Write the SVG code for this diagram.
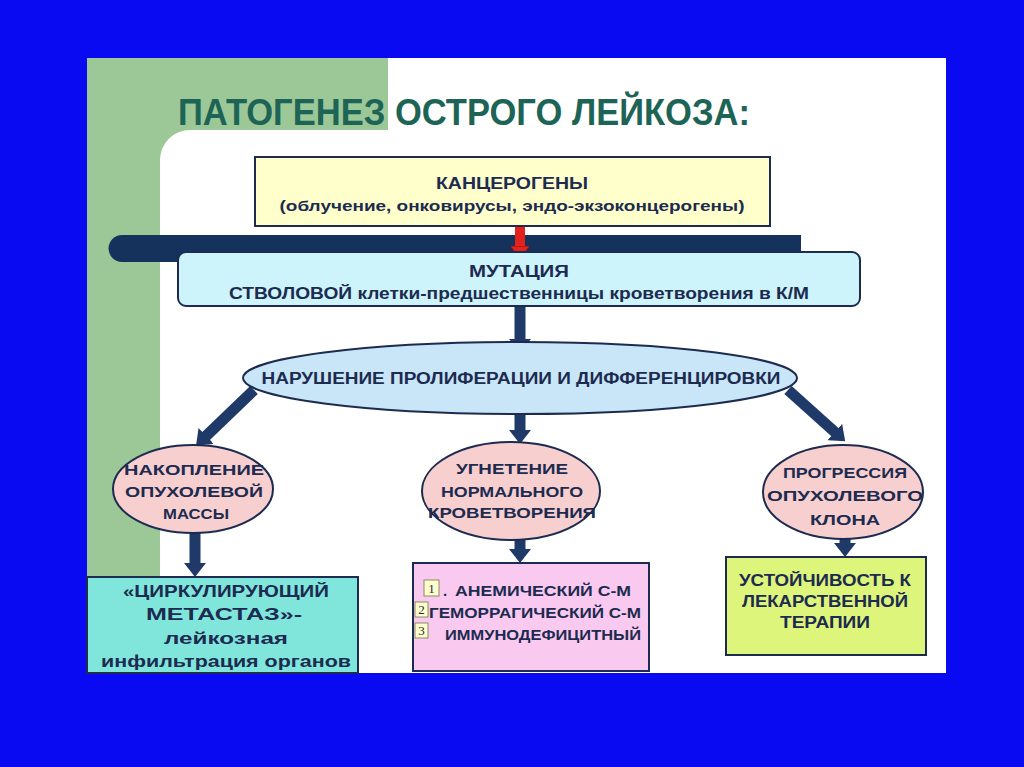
<svg xmlns="http://www.w3.org/2000/svg" width="1024" height="767" viewBox="0 0 1024 767">
<style>
.t{font-family:"Liberation Sans","DejaVu Sans",sans-serif;fill:#1c2b4f;font-weight:bold;text-anchor:middle}
.node{stroke:#1c2b4f;stroke-width:2}
.arr{stroke:#1f3a68;stroke-width:11;fill:none}
</style>
<defs>
<marker id="nh" markerUnits="userSpaceOnUse" viewBox="0 0 14 22" markerWidth="14" markerHeight="22" refX="3" refY="11" orient="auto">
<path d="M0,0 L14,11 L0,22 Z" fill="#1f3a68"/>
</marker>
<marker id="rh" markerUnits="userSpaceOnUse" viewBox="0 0 12 20" markerWidth="12" markerHeight="20" refX="3" refY="10" orient="auto">
<path d="M0,0 L12,10 L0,20 Z" fill="#e3221c" stroke="#7a1010" stroke-width="0.8"/>
</marker>
</defs>
<rect x="0" y="0" width="1024" height="767" fill="#0a0af2"/>
<rect x="87" y="58" width="859" height="615" fill="#ffffff"/>
<rect x="87" y="58" width="301" height="615" fill="#9cc796"/>
<path d="M190,130 H946 V673 H160 V160 A30,30 0 0 1 190,130 Z" fill="#ffffff"/>
<text x="464" y="125" class="t" style="fill:#1d6457;font-size:36px" textLength="572" lengthAdjust="spacingAndGlyphs">ПАТОГЕНЕЗ ОСТРОГО ЛЕЙКОЗА:</text>
<path d="M122,235 H801 V262 H122 A13.5,13.5 0 0 1 122,235 Z" fill="#15325c"/>
<g id="connectors">
<line x1="520" y1="226" x2="520" y2="249" stroke="#e3221c" stroke-width="10" marker-end="url(#rh)"/>
<line class="arr" x1="520" y1="306" x2="520" y2="342" marker-end="url(#nh)"/>
<line class="arr" x1="254" y1="390" x2="204" y2="438" marker-end="url(#nh)"/>
<line class="arr" x1="520" y1="404" x2="520" y2="433" marker-end="url(#nh)"/>
<line class="arr" x1="788" y1="390" x2="837" y2="434" marker-end="url(#nh)"/>
<line class="arr" x1="195" y1="533" x2="195" y2="566" marker-end="url(#nh)"/>
<line class="arr" x1="520" y1="540" x2="520" y2="552" marker-end="url(#nh)"/>
<line class="arr" x1="845" y1="538" x2="845" y2="546" marker-end="url(#nh)"/>
</g>
<g id="carcinogens">
<rect class="node" x="255" y="157" width="515" height="69" fill="#ffffcc"/>
<text x="512" y="189" class="t" style="font-size:16px" textLength="152" lengthAdjust="spacingAndGlyphs">КАНЦЕРОГЕНЫ</text>
<text x="512" y="211" class="t" style="font-size:15px" textLength="465" lengthAdjust="spacingAndGlyphs">(облучение, онковирусы, эндо-экзоконцерогены)</text>
</g>
<g id="mutation">
<rect class="node" x="178" y="252" width="682" height="54" rx="8" fill="#cdf3fb"/>
<text x="519" y="277" class="t" style="font-size:16px" textLength="100" lengthAdjust="spacingAndGlyphs">МУТАЦИЯ</text>
<text x="519" y="299" class="t" style="font-size:16px" textLength="580" lengthAdjust="spacingAndGlyphs">СТВОЛОВОЙ клетки-предшественницы кроветворения в К/М</text>
</g>
<g id="disorder">
<ellipse class="node" cx="520" cy="378" rx="277" ry="36" fill="#c9e6f8"/>
<text x="521" y="384" class="t" style="font-size:16px" textLength="519" lengthAdjust="spacingAndGlyphs">НАРУШЕНИЕ ПРОЛИФЕРАЦИИ И ДИФФЕРЕНЦИРОВКИ</text>
</g>
<g id="accumulation">
<ellipse class="node" cx="193" cy="489" rx="80" ry="44" fill="#f8cfcf"/>
<text x="194" y="475" class="t" style="font-size:15px" textLength="140" lengthAdjust="spacingAndGlyphs">НАКОПЛЕНИЕ</text>
<text x="194" y="497" class="t" style="font-size:15px" textLength="138" lengthAdjust="spacingAndGlyphs">ОПУХОЛЕВОЙ</text>
<text x="196" y="519" class="t" style="font-size:15px" textLength="66" lengthAdjust="spacingAndGlyphs">МАССЫ</text>
</g>
<g id="suppression">
<ellipse class="node" cx="511" cy="491" rx="89" ry="49" fill="#f8cfcf"/>
<text x="512" y="474" class="t" style="font-size:15px" textLength="112" lengthAdjust="spacingAndGlyphs">УГНЕТЕНИЕ</text>
<text x="512" y="497" class="t" style="font-size:15px" textLength="142" lengthAdjust="spacingAndGlyphs">НОРМАЛЬНОГО</text>
<text x="512" y="518" class="t" style="font-size:15px" textLength="168" lengthAdjust="spacingAndGlyphs">КРОВЕТВОРЕНИЯ</text>
</g>
<g id="progression">
<ellipse class="node" cx="843" cy="492" rx="80" ry="47" fill="#f8cfcf"/>
<text x="845" y="478" class="t" style="font-size:15px" textLength="124" lengthAdjust="spacingAndGlyphs">ПРОГРЕССИЯ</text>
<text x="845" y="501" class="t" style="font-size:15px" textLength="156" lengthAdjust="spacingAndGlyphs">ОПУХОЛЕВОГО</text>
<text x="845" y="525" class="t" style="font-size:15px" textLength="70" lengthAdjust="spacingAndGlyphs">КЛОНА</text>
</g>
<g id="metastasis">
<rect class="node" x="87" y="577" width="271" height="96" fill="#80e6dc"/>
<text x="226" y="597" class="t" style="font-size:17px" textLength="206" lengthAdjust="spacingAndGlyphs">«ЦИРКУЛИРУЮЩИЙ</text>
<text x="224" y="620" class="t" style="font-size:17px" textLength="156" lengthAdjust="spacingAndGlyphs">МЕТАСТАЗ»-</text>
<text x="226" y="644" class="t" style="font-size:17px" textLength="124" lengthAdjust="spacingAndGlyphs">лейкозная</text>
<text x="226" y="667" class="t" style="font-size:17px" textLength="250" lengthAdjust="spacingAndGlyphs">инфильтрация органов</text>
</g>
<g id="syndromes">
<rect class="node" x="413" y="563" width="236" height="108" fill="#fac9f0"/>
<text x="443" y="596" class="t" style="font-size:15px;text-anchor:start">.</text>
<text x="455" y="596" class="t" style="font-size:15px;text-anchor:start" textLength="176" lengthAdjust="spacingAndGlyphs">АНЕМИЧЕСКИЙ С-М</text>
<text x="429" y="618" class="t" style="font-size:15px;text-anchor:start" textLength="212" lengthAdjust="spacingAndGlyphs">ГЕМОРРАГИЧЕСКИЙ С-М</text>
<text x="445" y="640" class="t" style="font-size:15px;text-anchor:start" textLength="196" lengthAdjust="spacingAndGlyphs">ИММУНОДЕФИЦИТНЫЙ</text>
<rect x="424" y="580" width="15" height="16" fill="#ffffcc" stroke="#8a8a6a" stroke-width="1"/>
<text x="431.5" y="593" style="font-family:'Liberation Serif',serif;font-size:13px;text-anchor:middle;fill:#1c2b4f">1</text>
<rect x="415" y="602" width="13" height="15" fill="#ffffcc" stroke="#8a8a6a" stroke-width="1"/>
<text x="421.5" y="614" style="font-family:'Liberation Serif',serif;font-size:13px;text-anchor:middle;fill:#1c2b4f">2</text>
<rect x="415" y="623" width="13" height="15" fill="#ffffcc" stroke="#8a8a6a" stroke-width="1"/>
<text x="421.5" y="635" style="font-family:'Liberation Serif',serif;font-size:13px;text-anchor:middle;fill:#1c2b4f">3</text>
</g>
<g id="resistance">
<rect class="node" x="726" y="557" width="200" height="98" fill="#dcf57a"/>
<text x="825" y="586" class="t" style="font-size:16px" textLength="172" lengthAdjust="spacingAndGlyphs">УСТОЙЧИВОСТЬ К</text>
<text x="825" y="607" class="t" style="font-size:16px" textLength="166" lengthAdjust="spacingAndGlyphs">ЛЕКАРСТВЕННОЙ</text>
<text x="825" y="628" class="t" style="font-size:16px" textLength="90" lengthAdjust="spacingAndGlyphs">ТЕРАПИИ</text>
</g>
</svg>
